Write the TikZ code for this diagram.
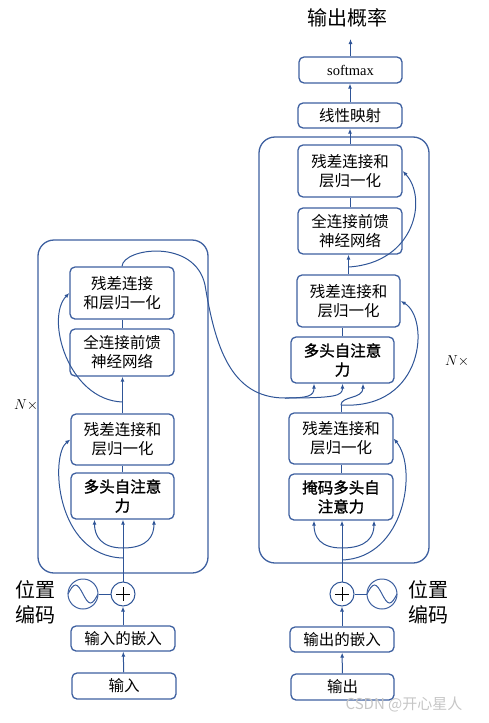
\documentclass[tikz,border=0pt]{standalone}
\usepackage{fontspec}
\setmainfont{Liberation Serif}
\newfontfamily\cjk{Noto Sans CJK SC}
\newfontfamily\cjkbf[FakeBold=1.2]{Noto Sans CJK SC}
\usetikzlibrary{arrows.meta,calc}
\definecolor{lineblue}{RGB}{47,85,151}
\definecolor{boxblue}{RGB}{62,96,160}
\begin{document}
\begin{tikzpicture}[x=1pt,y=-1pt,
  blk/.style={draw=boxblue, line width=1.3pt, rounded corners=5pt, fill=white,
    minimum width=104pt, inner sep=0pt, align=center,
    font=\cjk\fontsize{15.5}{19}\selectfont},
  bblk/.style={blk, font=\cjkbf\fontsize{15.5}{19}\selectfont},
  frm/.style={draw=boxblue, line width=1.3pt, rounded corners=16pt, inner sep=0pt},
  conn/.style={draw=lineblue, line width=1pt},
  arr/.style={conn, -{Latex[length=5pt,width=4pt]}},
  plusc/.style={circle, draw=lineblue, line width=1pt, minimum size=24pt, inner sep=0pt, fill=white},
  sinc/.style={circle, draw=boxblue, line width=1pt, minimum size=30pt, inner sep=0pt},
  lbl/.style={align=center, inner sep=0pt, font=\cjk\fontsize{20}{25}\selectfont},
  nlbl/.style={inner sep=0pt, font=\fontsize{15}{17}\selectfont}]
\useasboundingbox (0,0) rectangle (488,723);

% frames
\node[frm, minimum width=170pt, minimum height=333pt] (enc) at (123,406.5) {};
\node[frm, minimum width=170pt, minimum height=426pt] (dec) at (344,350) {};

% encoder
\node[blk, minimum height=52pt] (ea2) at (122,293) {残差连接\\和层归一化};
\node[blk, minimum height=47pt] (ef) at (122,352.5) {全连接前馈\\神经网络};
\node[blk, minimum width=103pt, minimum height=51pt] (ea1) at (122.5,439.5) {残差连接和\\层归一化};
\node[bblk, minimum width=103pt, minimum height=46pt] (em) at (122.5,496) {多头自注意\\力};
\node[plusc] (ep) at (123,594) {};
\node[sinc] (es) at (83,594) {};
\node[blk, minimum height=25pt] (eemb) at (123,638.5) {输入的嵌入};
\node[blk, minimum height=26pt] (ein) at (124,686) {输入};
\node[lbl] (elbl) at (35,602) {位置\\编码};
\node[nlbl] (en) at (26,405) {$N\times$};

% decoder
\node[blk, minimum height=52pt] (da3) at (350,171) {残差连接和\\层归一化};
\node[blk, minimum height=46pt] (df) at (350,231) {全连接前馈\\神经网络};
\node[blk, minimum width=103pt, minimum height=52pt] (da2) at (348.5,301) {残差连接和\\层归一化};
\node[bblk, minimum width=103pt, minimum height=46pt] (dm) at (342.5,360) {多头自注意\\力};
\node[blk, minimum width=104pt, minimum height=51pt] (da1) at (341,438.5) {残差连接和\\层归一化};
\node[bblk, minimum width=104pt, minimum height=46pt] (dmm) at (341,497) {掩码多头自\\注意力};
\node[plusc] (dp) at (342,594) {};
\node[sinc] (ds) at (382,594) {};
\node[blk, minimum height=25pt] (demb) at (342,639.5) {输出的嵌入};
\node[blk, minimum width=103pt, minimum height=26pt] (dout) at (342.5,687) {输出};
\node[lbl] (dlbl) at (428,602) {位置\\编码};
\node[nlbl] (dn) at (457,361) {$N\times$};

% top
\node[blk, minimum height=25pt] (lin) at (350,115.5) {线性映射};
\node[blk, minimum width=103pt, minimum height=26pt, font=\fontsize{14.5}{16}\selectfont] (soft) at (350.5,70) {softmax};
\node[lbl] (title) at (347,18) {输出概率};
\coordinate (topend) at (350.5,39);

% watermark
\node[inner sep=0pt, text=gray!45, font=\cjk\fontsize{15}{17}\selectfont] (wm) at (404,705) {CSDN @开心星人};

% plus and sine glyphs
\foreach \c in {ep,dp}{
  \draw[black, line width=0.8pt] ($(\c)+(-7,0)$) -- ($(\c)+(7,0)$);
  \draw[black, line width=0.8pt] ($(\c)+(0,-7)$) -- ($(\c)+(0,7)$);
}
\foreach \c in {es,ds}{
  \draw[boxblue, line width=1pt] ($(\c)+(-15,0)$) sin ++(7.5,-9) cos ++(7.5,9) sin ++(7.5,9) cos ++(7.5,-9);
}

% encoder connectors
\draw[arr] (ein) -- (eemb);
\draw[arr] (eemb) -- (ep);
\draw[conn] (es) -- (ep);
\draw[arr] (ep.north) -- (ep.north |- em.south);
\coordinate (eb) at (123,548);
\draw[arr] (eb) .. controls +(-22,0) and +(0,16) .. ($(em.south)+(-28,0)$);
\draw[arr] (eb) .. controls +(25,0) and +(0,16) .. ($(em.south)+(31.5,0)$);
\coordinate (er1) at (123,558);
\draw[arr] (er1) .. controls (55,556) and (50,455) .. (ea1.west);
\draw[conn] (em.north) -- (em.north |- ea1.south);
\draw[arr] (ea1.north) -- (ea1.north |- ef.south);
\coordinate (er2) at (122.5,402);
\draw[arr] (er2) .. controls (68,400) and (45,318) .. (ea2.west);
\draw[conn] (ef.north) -- (ea2.south);

% encoder output to decoder
\coordinate (eo) at (285,398);
\draw[conn] (ea2.north) .. controls (123,248) and (195,238) .. (205,285) .. controls (215,345) and (230,398) .. (eo);
\draw[arr] (eo) .. controls (308,398) and (314,396) .. ($(dm.south)+(-28.5,0)$);
\draw[arr] (eo) .. controls (335,398) and (342.5,396) .. (dm.south);

% decoder connectors
\draw[arr] (dout) -- (demb);
\draw[arr] (demb) -- (dp);
\draw[conn] (dp) -- (ds);
\draw[arr] (dp.north) -- (dp.north |- dmm.south);
\coordinate (db) at (342,548);
\draw[arr] (db) .. controls +(-22,0) and +(0,16) .. ($(dmm.south)+(-27,0)$);
\draw[arr] (db) .. controls +(25,0) and +(0,16) .. ($(dmm.south)+(33,0)$);
\coordinate (dr1) at (342,560);
\draw[arr] (dr1) .. controls (405,558) and (418,468) .. (da1.east);
\draw[conn] (dmm.north) -- (da1.south);
\coordinate (dj) at (341,405);
\draw[conn] (da1.north) -- (dj);
\draw[arr] (dj) .. controls (341,396) and (363,399) .. ($(dm.south)+(20.5,0)$);
\draw[arr] (dj) .. controls (425,410) and (430,318) .. (da2.east);
\draw[conn] (dm.north) -- (dm.north |- da2.south);
\draw[arr] (da2.north) -- (da2.north |- df.south);
\coordinate (dk) at (348.5,267);
\draw[arr] (dk) .. controls (415,263) and (428,198) .. (da3.east);
\draw[conn] (df.north) -- (da3.south);
\draw[arr] (da3.north) -- (lin.south);
\draw[arr] (lin.north) -- (lin.north |- soft.south);
\draw[arr] (soft.north) -- (topend);
\end{tikzpicture}
\end{document}
